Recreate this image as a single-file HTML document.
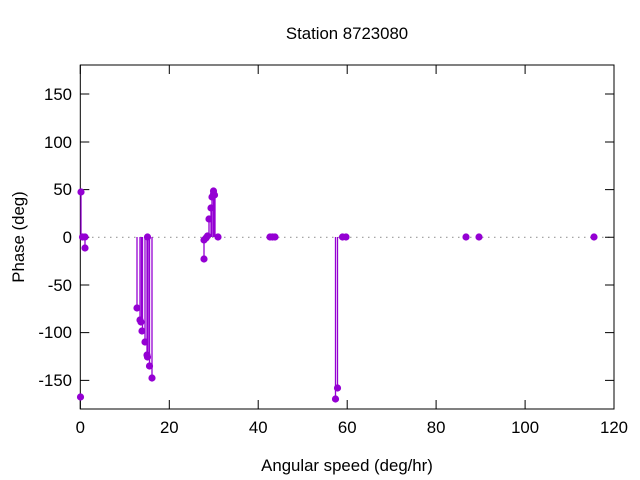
<!DOCTYPE html>
<html><head><meta charset="utf-8"><style>body{margin:0;background:#fff}svg{display:block}text{font-family:"Liberation Sans","DejaVu Sans",sans-serif;font-size:16.8px;fill:#000}</style></head><body>
<svg width="640" height="480" viewBox="0 0 640 480">
<rect width="640" height="480" fill="#fff"/>
<line x1="80" y1="237.3" x2="614" y2="237.3" stroke="#999" stroke-width="1.2" stroke-dasharray="1.5,4.5"/>
<g stroke="#000" stroke-width="1">
<rect x="80.3" y="65" width="533.7" height="344" fill="none"/>
<path d="M80.3 94h9M80.3 142h9M80.3 189.6h9M80.3 237.3h9M80.3 285h9M80.3 332.6h9M80.3 380.4h9
M614 94h-9M614 142h-9M614 189.6h-9M614 237.3h-9M614 285h-9M614 332.6h-9M614 380.4h-9
M80.3 409v-9M169.3 409v-9M258.2 409v-9M347.2 409v-9M436.1 409v-9M525.1 409v-9M614 409v-9
M80.3 65v9M169.3 65v9M258.2 65v9M347.2 65v9M436.1 65v9M525.1 65v9"/>
</g>
<g text-anchor="end">
<text x="72" y="100">150</text><text x="72" y="148">100</text><text x="72" y="195">50</text><text x="72" y="243">0</text><text x="72" y="291">-50</text><text x="72" y="338">-100</text><text x="72" y="386">-150</text>
</g>
<g text-anchor="middle">
<text x="80.3" y="433">0</text><text x="169.3" y="433">20</text><text x="258.2" y="433">40</text><text x="347.2" y="433">60</text><text x="436.1" y="433">80</text><text x="525.1" y="433">100</text><text x="614" y="433">120</text>
<text x="347" y="471">Angular speed (deg/hr)</text>
<text x="347" y="39">Station 8723080</text>
<text transform="translate(24,237) rotate(-90)">Phase (deg)</text>
</g>
<g stroke="#9400d3" stroke-width="1.3">
<path d="M81 237V192M85 237V248
M137 237V308M140 237V320M141.5 237V322M142.5 237V331M145 237V342M147 237V355M148 237V357M149.5 237V366M152 237V378
M204 237V259M209 237V219M211 237V208M212 237V197M213.5 237V194M214.5 237V191M215 237V195
M335.5 237V399M337.5 237V388"/>
</g>
<g fill="#9400d3">
<circle cx="81" cy="192" r="3.6"/><circle cx="80.5" cy="397" r="3.6"/><circle cx="82.5" cy="237" r="3.6"/><circle cx="85" cy="237" r="3.6"/><circle cx="85" cy="248" r="3.6"/>
<circle cx="137" cy="308" r="3.6"/><circle cx="140" cy="320" r="3.6"/><circle cx="141" cy="322" r="3.6"/><circle cx="142" cy="331" r="3.6"/><circle cx="145" cy="342" r="3.6"/><circle cx="147" cy="355" r="3.6"/><circle cx="147.5" cy="357" r="3.6"/><circle cx="147.5" cy="237" r="3.6"/><circle cx="149.5" cy="366" r="3.6"/><circle cx="152" cy="378" r="3.6"/>
<circle cx="204" cy="259" r="3.6"/><circle cx="204" cy="240" r="3.6"/><circle cx="206" cy="238" r="3.6"/><circle cx="207.5" cy="236" r="3.6"/><circle cx="209" cy="219" r="3.6"/><circle cx="211" cy="208" r="3.6"/><circle cx="212" cy="197" r="3.6"/><circle cx="213.5" cy="194" r="3.6"/><circle cx="213.5" cy="191" r="3.6"/><circle cx="214.5" cy="195" r="3.6"/><circle cx="218" cy="237" r="3.6"/>
<circle cx="270" cy="237" r="3.6"/><circle cx="272.5" cy="237" r="3.6"/><circle cx="275" cy="237" r="3.6"/>
<circle cx="335.5" cy="399" r="3.6"/><circle cx="337.5" cy="388" r="3.6"/><circle cx="342.5" cy="237" r="3.6"/><circle cx="346" cy="237" r="3.6"/>
<circle cx="466" cy="237" r="3.6"/><circle cx="479" cy="237" r="3.6"/><circle cx="594" cy="237" r="3.6"/>
</g>
</svg>
</body></html>
